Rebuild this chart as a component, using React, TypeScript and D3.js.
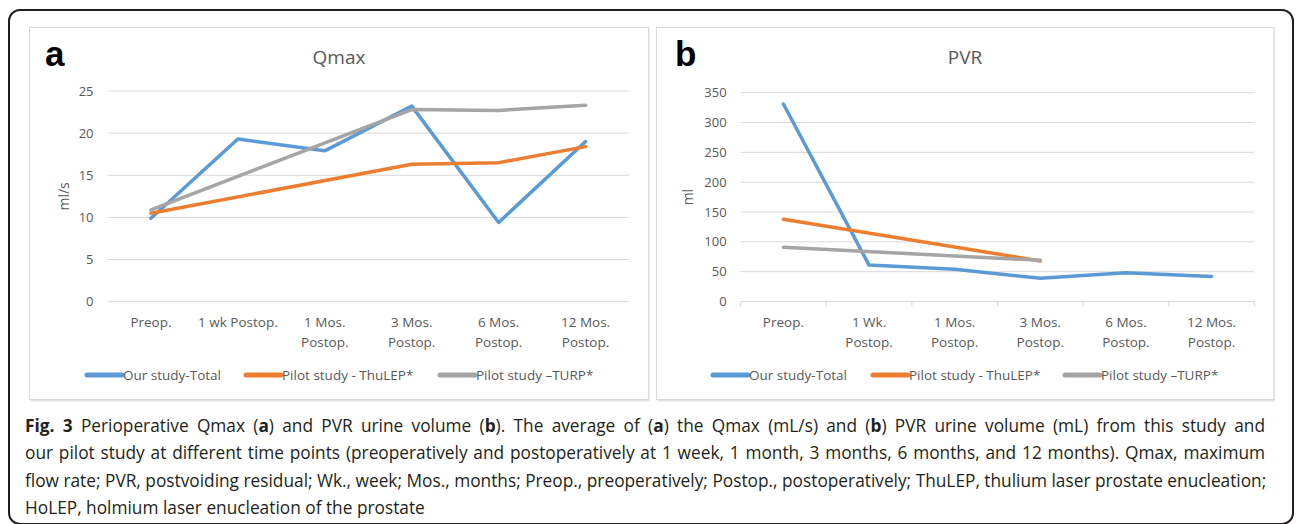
import React, { useEffect, useRef } from "react";
import * as d3 from "d3";

// time points (x categories)
const qmaxCats = ["Preop.", "1 wk Postop.", "1 Mos.|Postop.", "3 Mos.|Postop.", "6 Mos.|Postop.", "12 Mos.|Postop."];
const pvrCats = ["Preop.", "1 Wk.|Postop.", "1 Mos.|Postop.", "3 Mos.|Postop.", "6 Mos.|Postop.", "12 Mos.|Postop."];

const seriesNames = ["Our study-Total", "Pilot study - ThuLEP*", "Pilot study \u2013TURP*"];
const seriesColors = ["#5b9bd5", "#ed7d31", "#a5a5a5"];

// Qmax, ml/s (null = no measurement, Excel connects over it)
const qmaxOur = [9.9, 19.3, 17.9, 23.2, 9.4, 19.0];
const qmaxThulep = [10.5, null, null, 16.3, 16.5, 18.4];
const qmaxTurp = [10.9, null, null, 22.8, 22.7, 23.3];
const qmaxTicks = [0, 5, 10, 15, 20, 25];

// PVR, ml
const pvrOur = [331, 61, 54, 39, 48, 42];
const pvrThulep = [138, null, null, 68, null, null];
const pvrTurp = [91, null, null, 69, null, null];
const pvrTicks = [0, 50, 100, 150, 200, 250, 300, 350];

const captionLines = [
  [["Fig. 3", true], [" Perioperative Qmax (", false], ["a", true], [") and PVR urine volume (", false], ["b", true], ["). The average of (", false], ["a", true], [") the Qmax (mL/s) and (", false], ["b", true], [") PVR urine volume (mL) from this study and", false]],
  [["our pilot study at different time points (preoperatively and postoperatively at 1 week, 1 month, 3 months, 6 months, and 12 months). Qmax, maximum", false]],
  [["flow rate; PVR, postvoiding residual; Wk., week; Mos., months; Preop., preoperatively; Postop., postoperatively; ThuLEP, thulium laser prostate enucleation;", false]],
  [["HoLEP, holmium laser enucleation of the prostate", false]],
];

const FONT = "'Open Sans', sans-serif";
const TXT = "#595959";

function Panel(props: any) {
  const { x0, x1, letter, letterX, title, titleX, yLabel, yLabelX, cats, series, ticks, yMax,
    plotL, plotR, yTop, yBot, axisTicks, legend } = props;
  const x = d3.scaleBand().domain(cats).range([plotL, plotR]);
  const y = d3.scaleLinear().domain([0, yMax]).range([yBot, yTop]);
  const line = d3.line<any>().x((d) => x(d.c)! + x.bandwidth() / 2).y((d) => y(d.v));

  return (
    <g>
      <rect x={x0 + 1} y={29} width={x1 - x0} height={372.5} fill="#e6e6e6" />
      <rect x={x0} y={27.5} width={x1 - x0} height={372} fill="#fff" stroke="#d9d9d9" strokeWidth={1} />
      <text x={letterX} y={66} fontFamily="'Liberation Sans', Arial, sans-serif" fontWeight="bold" fontSize={35} fill="#000">{letter}</text>
      <text x={titleX} y={64} textAnchor="middle" fontFamily={FONT} fontSize={19} fill={TXT}>{title}</text>
      {ticks.map((t: number) => (
        <g key={t}>
          <line x1={plotL} x2={plotR} y1={y(t)} y2={y(t)} stroke="#d9d9d9" strokeWidth={1} />
          <text x={plotL - 14} y={y(t) + 4.5} textAnchor="end" fontFamily={FONT} fontSize={13} fill={TXT}>{t}</text>
        </g>
      ))}
      {axisTicks && [...cats.map((c: string) => x(c)!), plotR].map((px: number, i: number) => (
        <line key={i} x1={px} x2={px} y1={yBot} y2={yBot + 5} stroke="#d9d9d9" strokeWidth={1} />
      ))}
      <text transform={`translate(${yLabelX},${(yTop + yBot) / 2}) rotate(-90)`} textAnchor="middle"
        fontFamily={FONT} fontSize={14} fill={TXT}>{yLabel}</text>
      {cats.map((c: string) => {
        const parts = c.split("|");
        return (
          <text key={c} x={x(c)! + x.bandwidth() / 2} y={327} textAnchor="middle" fontFamily={FONT} fontSize={13.5} fill={TXT}>
            {parts.map((p, i) => (
              <tspan key={i} x={x(c)! + x.bandwidth() / 2} dy={i === 0 ? 0 : 20}>{p}</tspan>
            ))}
          </text>
        );
      })}
      {series.map((vals: (number | null)[], si: number) => {
        const pts = vals.map((v, i) => ({ c: cats[i], v })).filter((d) => d.v !== null);
        return (
          <path key={si} d={line(pts) || ""} fill="none" stroke={seriesColors[si]} strokeWidth={3.5}
            strokeLinejoin="round" strokeLinecap="round" />
        );
      })}
      {legend.map((lx: number, si: number) => (
        <g key={si}>
          <line x1={lx} x2={lx + 35} y1={375} y2={375} stroke={seriesColors[si]} strokeWidth={5} strokeLinecap="round" />
          <text x={lx + 36} y={380} fontFamily={FONT} fontSize={13.5} fill={TXT}>{seriesNames[si]}</text>
        </g>
      ))}
    </g>
  );
}

export default function App() {
  const capRef = useRef<SVGGElement>(null);

  // justify the first three caption lines like the printed figure
  useEffect(() => {
    const g = d3.select(capRef.current);
    g.selectAll<SVGTextElement, unknown>("text.just").each(function () {
      const el = this;
      el.setAttribute("word-spacing", "0");
      const len = el.getComputedTextLength();
      const spaces = (el.textContent || "").split(" ").length - 1;
      const extra = (1240 - len) / spaces;
      if (extra > 0) el.setAttribute("word-spacing", String(extra));
    });
  }, []);

  return (
    <svg width={1296} height={524} style={{ position: "absolute", left: 0, top: 0 }}>
      <rect x={0} y={0} width={1296} height={524} fill="#fff" />
      <rect x={9} y={10} width={1284} height={514} rx={11} fill="#fff" stroke="#231f20" strokeWidth={2} />
      <Panel x0={29.5} x1={648.5} letter="a" letterX={45} title="Qmax" titleX={339} yLabel="ml/s" yLabelX={69}
        cats={qmaxCats} series={[qmaxOur, qmaxThulep, qmaxTurp]} ticks={qmaxTicks} yMax={25}
        plotL={107.5} plotR={629} yTop={91} yBot={301.7} axisTicks={false} legend={[87, 246, 440]} />
      <Panel x0={656.5} x1={1274} letter="b" letterX={675} title="PVR" titleX={965} yLabel="ml" yLabelX={693}
        cats={pvrCats} series={[pvrOur, pvrThulep, pvrTurp]} ticks={pvrTicks} yMax={350}
        plotL={740.6} plotR={1254.4} yTop={92.7} yBot={301.5} axisTicks={true} legend={[713, 873, 1065]} />
      <g ref={capRef}>
        {captionLines.map((ln, li) => (
          <text key={li} className={li < 3 ? "just" : ""} x={25} y={432 + li * 27.4} fontFamily={FONT} fontSize={17.3} fill="#231f20">
            {ln.map((seg: any, si: number) => (
              <tspan key={si} fontWeight={seg[1] ? "bold" : "normal"}>{seg[0]}</tspan>
            ))}
          </text>
        ))}
      </g>
    </svg>
  );
}
